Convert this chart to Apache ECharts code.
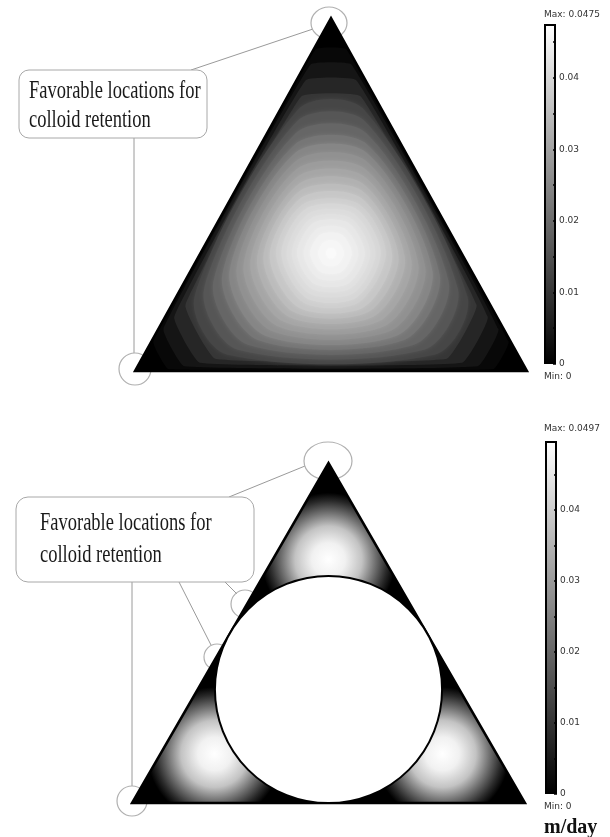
<!DOCTYPE html>
<html>
<head>
<meta charset="utf-8">
<script src="https://cdn.jsdelivr.net/npm/echarts@6/dist/echarts.min.js"></script>
<style>
  html, body { margin: 0; padding: 0; background: #fff; }
  #chart { width: 610px; height: 837px; }
</style>
</head>
<body>
<div id="chart"></div>
<script>
// duct cross-section: equilateral triangle, side = 1 (lower-left, lower-right, apex)
var triX = [0, 1, 0.5]
var triY = [0, 0, 0.866]
var centroid = [0.5, 0.289]

// top panel: filled contours, value / size of the contour (fraction of the wall) / how round its corners are
var topMax = 0.0475
var contourVal = [0.0015, 0.004, 0.007, 0.010, 0.013, 0.016, 0.019, 0.022, 0.025, 0.027, 0.029, 0.031,
  0.033, 0.035, 0.037, 0.0385, 0.040, 0.041, 0.042, 0.043, 0.044, 0.045, 0.0458, 0.0465]
var contourScale = [0.985, 0.96, 0.93, 0.895, 0.86, 0.82, 0.78, 0.74, 0.70, 0.66, 0.62, 0.58,
  0.54, 0.50, 0.46, 0.42, 0.38, 0.34, 0.30, 0.26, 0.21, 0.16, 0.10, 0.04]
var contourCut = [0.08, 0.11, 0.14, 0.17, 0.19, 0.21, 0.23, 0.25, 0.26, 0.27, 0.28, 0.29,
  0.30, 0.31, 0.32, 0.333, 0.333, 0.333, 0.333, 0.333, 0.333, 0.333, 0.333, 0.333]

// bottom panel: cylinder in the duct, one fast pocket per corner (same order as triX)
var bottomMax = 0.0497
var holeCenter = [0.5, 0.289]
var holeRadius = 0.289
var pocketX = [0.21, 0.79, 0.5]
var pocketY = [0.125, 0.125, 0.62]
var pocketRadius = 0.17
var pocketRingPos = [0, 0.25, 0.5, 0.7, 0.88, 1]
var pocketRingVal = [0.0497, 0.047, 0.038, 0.022, 0.008, 0]

// colour bar ticks
var barStep = 0.005
var calloutText = ['Favorable locations for', 'colloid retention']

function grayOf(v, max) {
  var g = Math.round(Math.max(0, Math.min(1, v / max)) * 255)
  return 'rgb(' + g + ',' + g + ',' + g + ')'
}
function ringStops(pos, val, max) {
  return pos.map(function (p, i) { return { offset: p, color: grayOf(val[i], max) } })
}
function barLabel(v) {
  var k = Math.round(v * 1000)
  if (k % 10 !== 0) return ''
  return String(+v.toFixed(3))
}

var chart = echarts.init(document.getElementById('chart'))

// triangle shrunk about the centroid, corners cut back along both edges
function contourPoints(api, s, cut) {
  var w = triX.map(function (x, i) {
    return [centroid[0] + s * (x - centroid[0]), centroid[1] + s * (triY[i] - centroid[1])]
  })
  var pts = []
  for (var i = 0; i < 3; i++) {
    var a = w[(i + 2) % 3], b = w[i], c = w[(i + 1) % 3]
    pts.push(api.coord([b[0] + cut * (a[0] - b[0]), b[1] + cut * (a[1] - b[1])]))
    pts.push(api.coord([b[0] + cut * (c[0] - b[0]), b[1] + cut * (c[1] - b[1])]))
  }
  return pts
}

function renderTop(params, api) {
  var outline = triX.map(function (x, i) { return api.coord([x, triY[i]]) })
  var children = [{ type: 'polygon', shape: { points: outline }, style: { fill: grayOf(0, topMax) } }]
  contourVal.forEach(function (v, i) {
    var col = grayOf(v, topMax)
    var edge = contourScale[i] > 0.88
    children.push({
      type: 'polygon',
      shape: { points: contourPoints(api, contourScale[i], contourCut[i]), smooth: edge ? 0.1 : 0.3 },
      style: edge ? { fill: col } : { fill: col, shadowBlur: 4, shadowColor: col }
    })
  })
  children.push({
    type: 'polygon',
    shape: { points: outline },
    style: { fill: 'none', stroke: '#000', lineWidth: 2.5, lineJoin: 'miter' }
  })
  return { type: 'group', children: children }
}

function renderBottom(params, api) {
  var children = []
  var g = api.coord(centroid)
  var r = api.size([pocketRadius, 0])[0]
  for (var i = 0; i < 3; i++) {
    var j = (i + 1) % 3, k = (i + 2) % 3
    var v = api.coord([triX[i], triY[i]])
    var mj = api.coord([(triX[i] + triX[j]) / 2, (triY[i] + triY[j]) / 2])
    var mk = api.coord([(triX[i] + triX[k]) / 2, (triY[i] + triY[k]) / 2])
    var p = api.coord([pocketX[i], pocketY[i]])
    children.push({
      type: 'polygon',
      shape: { points: [v, mj, g, mk] },
      style: {
        fill: new echarts.graphic.RadialGradient(p[0], p[1], r, ringStops(pocketRingPos, pocketRingVal, bottomMax), true),
        stroke: 'none'
      }
    })
  }
  children.push({
    type: 'polygon',
    shape: { points: triX.map(function (x, i) { return api.coord([x, triY[i]]) }) },
    style: { fill: 'none', stroke: '#000', lineWidth: 2.5, lineJoin: 'miter' }
  })
  var hc = api.coord(holeCenter)
  children.push({
    type: 'circle',
    shape: { cx: hc[0], cy: hc[1], r: api.size([holeRadius, 0])[0] },
    style: { fill: '#fff', stroke: '#000', lineWidth: 2 }
  })
  return { type: 'group', children: children }
}

function barAxis(grid, max) {
  return {
    gridIndex: grid,
    type: 'value',
    position: 'right',
    min: 0,
    max: max,
    interval: barStep,
    z: 10,
    axisLine: { show: false },
    splitLine: { show: false },
    axisTick: { show: true, inside: true, length: 3, lineStyle: { color: '#000', width: 1.5 } },
    axisLabel: {
      margin: 3,
      fontSize: 9,
      fontFamily: 'DejaVu Sans',
      color: '#333',
      showMaxLabel: false,
      formatter: barLabel
    }
  }
}

function barSeries(idx, max) {
  return {
    type: 'bar',
    xAxisIndex: idx,
    yAxisIndex: idx,
    data: [max],
    barWidth: '100%',
    silent: true,
    itemStyle: {
      color: new echarts.graphic.LinearGradient(0, 1, 0, 0, [
        { offset: 0, color: grayOf(0, max) },
        { offset: 1, color: grayOf(max, max) }
      ]),
      borderColor: '#000',
      borderWidth: 2
    }
  }
}

var smallText = { fontSize: 9, fontWeight: 'normal', fontFamily: 'DejaVu Sans', color: '#333' }
var noteFont = '18.5px "Liberation Serif", "Times New Roman", serif'
var noteLine = { stroke: '#9a9a9a', lineWidth: 1 }
var noteRing = { fill: null, stroke: '#b0b0b0', lineWidth: 1.2 }

function noteText(x, y, txt) {
  return { type: 'text', x: x, y: y, scaleY: 1.4, style: { text: txt, font: noteFont, fill: '#1a1a1a', align: 'left', verticalAlign: 'middle' } }
}

chart.setOption({
  animation: false,
  backgroundColor: '#fff',
  title: [
    { text: 'Max: ' + topMax, left: 544, top: 10, padding: 0, textStyle: smallText },
    { text: 'Min: 0', left: 544, top: 372, padding: 0, textStyle: smallText },
    { text: 'Max: ' + bottomMax, left: 544, top: 424, padding: 0, textStyle: smallText },
    { text: 'Min: 0', left: 544, top: 802, padding: 0, textStyle: smallText },
    { text: 'm/day', left: 544, top: 818, padding: 0, textStyle: { fontSize: 20, fontWeight: 'bold', fontFamily: 'Liberation Serif', color: '#111' } }
  ],
  grid: [
    { left: 135, top: 18, width: 392, height: 353 },
    { left: 132, top: 463, width: 393, height: 340 },
    { left: 544, top: 24, width: 12, height: 340 },
    { left: 545, top: 441, width: 12, height: 353 }
  ],
  xAxis: [
    { gridIndex: 0, type: 'value', min: 0, max: 1, show: false },
    { gridIndex: 1, type: 'value', min: 0, max: 1, show: false },
    { gridIndex: 2, type: 'category', data: ['u'], show: false },
    { gridIndex: 3, type: 'category', data: ['u'], show: false }
  ],
  yAxis: [
    { gridIndex: 0, type: 'value', min: 0, max: 0.866, show: false },
    { gridIndex: 1, type: 'value', min: 0, max: 0.866, show: false },
    barAxis(2, topMax),
    barAxis(3, bottomMax)
  ],
  series: [
    { type: 'custom', xAxisIndex: 0, yAxisIndex: 0, data: [centroid], renderItem: renderTop, silent: true, clip: false, z: 5 },
    { type: 'custom', xAxisIndex: 1, yAxisIndex: 1, data: [centroid], renderItem: renderBottom, silent: true, clip: false, z: 5 },
    barSeries(2, topMax),
    barSeries(3, bottomMax)
  ],
  graphic: [
    // top callout
    { type: 'line', z: 0, shape: { x1: 191, y1: 70, x2: 313, y2: 29 }, style: noteLine },
    { type: 'line', z: 0, shape: { x1: 134, y1: 138, x2: 134, y2: 353 }, style: noteLine },
    { type: 'ellipse', z: 0, shape: { cx: 329, cy: 23, rx: 18, ry: 16 }, style: noteRing },
    { type: 'circle', z: 0, shape: { cx: 135, cy: 369, r: 16 }, style: noteRing },
    { type: 'rect', z: 1, shape: { x: 19, y: 70, width: 188, height: 68, r: 10 }, style: { fill: '#fff', stroke: '#a8a8a8', lineWidth: 1 } },
    Object.assign(noteText(29, 91, calloutText[0]), { z: 2 }),
    Object.assign(noteText(29, 120, calloutText[1]), { z: 2 }),
    // bottom callout
    { type: 'line', z: 0, shape: { x1: 229, y1: 497, x2: 305, y2: 466 }, style: noteLine },
    { type: 'line', z: 0, shape: { x1: 225, y1: 582, x2: 237, y2: 594 }, style: noteLine },
    { type: 'line', z: 0, shape: { x1: 179, y1: 582, x2: 211, y2: 645 }, style: noteLine },
    { type: 'line', z: 0, shape: { x1: 132, y1: 582, x2: 132, y2: 786 }, style: noteLine },
    { type: 'ellipse', z: 0, shape: { cx: 328, cy: 461, rx: 24, ry: 19 }, style: noteRing },
    { type: 'circle', z: 0, shape: { cx: 245, cy: 604, r: 14 }, style: noteRing },
    { type: 'circle', z: 0, shape: { cx: 217, cy: 657, r: 13 }, style: noteRing },
    { type: 'circle', z: 0, shape: { cx: 132, cy: 801, r: 15 }, style: noteRing },
    { type: 'rect', z: 1, shape: { x: 16, y: 497, width: 238, height: 85, r: 12 }, style: { fill: '#fff', stroke: '#a8a8a8', lineWidth: 1 } },
    Object.assign(noteText(40, 523, calloutText[0]), { z: 2 }),
    Object.assign(noteText(40, 555, calloutText[1]), { z: 2 })
  ]
})
</script>
</body>
</html>
